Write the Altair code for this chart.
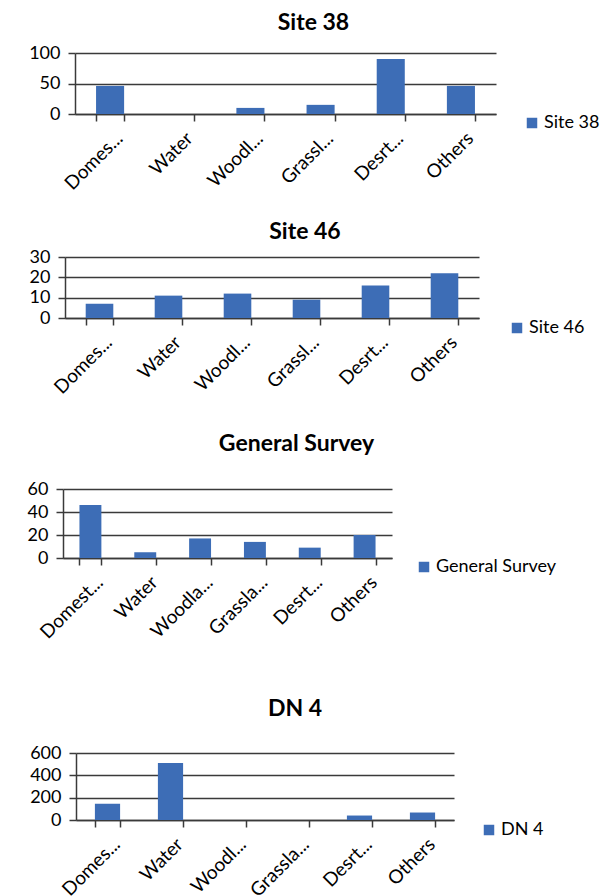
import altair as alt
import pandas as pd

BLUE = "#3d6db6"
GRID = "#3a3a3a"
FONT = "Lato"

# ---- data ----
site38_labels = ["Domes...", "Water", "Woodl...", "Grassl...", "Desrt...", "Others"]
site38_values = [46, 0, 10, 15, 90, 46]
site38_ticks = [0, 50, 100]

site46_labels = ["Domes...", "Water", "Woodl...", "Grassl...", "Desrt...", "Others"]
site46_values = [7, 11, 12, 9, 16, 22]
site46_ticks = [0, 10, 20, 30]

general_labels = ["Domest...", "Water", "Woodla...", "Grassla...", "Desrt...", "Others"]
general_values = [46, 5, 17, 14, 9, 20]
general_ticks = [0, 20, 40, 60]

dn4_labels = ["Domes...", "Water", "Woodl...", "Grassla...", "Desrt...", "Others"]
dn4_values = [145, 510, 0, 0, 40, 67]
dn4_ticks = [0, 200, 400, 600]

AXIS_EXTENT = 48


def panel(name, labels, values, ticks, width, height, title_dx,
          title_offset, pre_gap, legend_x, legend_y):
    df = pd.DataFrame({"category": labels, "value": values,
                       "series": [name] * len(labels)})
    if pre_gap:
        title = alt.TitleParams(text=["", name], lineHeight=pre_gap,
                                fontSize=23, fontWeight="bold", font=FONT,
                                color="black", anchor="middle", frame="group",
                                dx=title_dx, offset=title_offset)
    else:
        title = alt.TitleParams(text=name, fontSize=23, fontWeight="bold",
                                font=FONT, color="black", anchor="middle",
                                frame="group", dx=title_dx, offset=title_offset)
    return alt.Chart(df).mark_bar().encode(
        x=alt.X("category:N", sort=labels, title=None,
                scale=alt.Scale(paddingInner=0.6, paddingOuter=0.3),
                axis=alt.Axis(labelAngle=-45, labelAlign="right",
                              labelBaseline="middle", labelFontSize=19,
                              labelFont=FONT, labelColor="black",
                              ticks=True, tickBand="extent", tickSize=7,
                              tickColor=GRID, tickWidth=1.5,
                              domainColor=GRID, domainWidth=1.5,
                              grid=False, labelPadding=14, labelOffset=9)),
        y=alt.Y("value:Q", title=None,
                scale=alt.Scale(domain=[0, ticks[-1]], nice=False),
                axis=alt.Axis(values=ticks, grid=True, gridColor=GRID,
                              gridWidth=1.5, domainColor=GRID, domainWidth=1.5,
                              tickColor=GRID, tickWidth=1.5, tickSize=7,
                              labelPadding=8, labelFontSize=18, labelFont=FONT,
                              labelColor="black", minExtent=AXIS_EXTENT,
                              maxExtent=AXIS_EXTENT, format="d")),
        color=alt.Color("series:N", scale=alt.Scale(range=[BLUE]),
                        legend=alt.Legend(title=None, orient="none",
                                          legendX=legend_x, legendY=legend_y,
                                          symbolType="square", symbolSize=110,
                                          labelFontSize=18, labelFont=FONT,
                                          labelColor="black", padding=0,
                                          symbolStrokeWidth=0, labelOffset=3)),
    ).properties(width=width, height=height, title=title)


def spacer(w):
    d = pd.DataFrame({"a": [0]})
    return alt.Chart(d).mark_point(opacity=0).encode(
        x=alt.X("a:Q", axis=None), y=alt.Y("a:Q", axis=None)
    ).properties(width=w, height=1)


p1 = panel("Site 38", site38_labels, site38_values, site38_ticks,
           421, 61, 28, 9, 0, 512, 61)
p2 = panel("Site 46", site46_labels, site46_values, site46_ticks,
           414, 61, 33, 4, 18, 497, 62)
p3 = panel("General Survey", general_labels, general_values, general_ticks,
           329, 69, 69, 24, 26, 404, 69)
p4 = panel("DN 4", dn4_labels, dn4_values, dn4_ticks,
           378, 67, 30, 23, 46, 469, 68)

rows = [
    alt.hconcat(spacer(16), p1, spacing=0),
    alt.hconcat(spacer(6), p2, spacing=0),
    alt.hconcat(spacer(1), p3, spacing=0),
    alt.hconcat(spacer(17), p4, spacing=0),
]

chart = alt.vconcat(*rows, spacing=9
                    ).resolve_scale(color="independent"
                    ).properties(padding={"left": 0, "top": 4, "right": 0, "bottom": 0}
                    ).configure_view(stroke=None)

chart.save("out.html", embed_options={"renderer": "svg", "actions": False})
